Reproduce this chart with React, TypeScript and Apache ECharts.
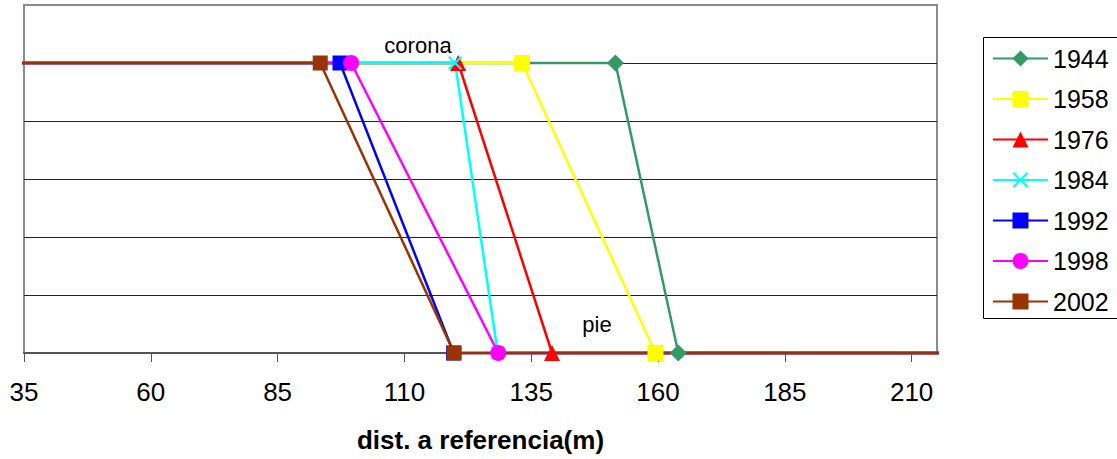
import React, { useEffect, useRef } from "react";
import * as echarts from "echarts";

const years = ["1944", "1958", "1976", "1984", "1992", "1998", "2002"];
const colors = ["#339966", "#FFFF00", "#FF0000", "#00FFFF", "#0000FF", "#FF00FF", "#993300"];
const symbols = [
  "diamond",
  "rect",
  "triangle",
  "path://M1,0 L5,4 L9,0 L10,1 L6,5 L10,9 L9,10 L5,6 L1,10 L0,9 L4,5 L0,1 Z",
  "rect",
  "circle",
  "rect",
];
const symbolSizes = [17, 16, 16, 14, 15, 16, 15];
// distance of the crown ("corona") and of the foot ("pie") for each year
const coronaX = [151.6, 133.2, 120.6, 120.0, 97.3, 99.5, 93.4];
const pieX = [164.0, 159.5, 139.1, 128.4, 119.7, 128.5, 119.8];
const coronaLevel = 5;
const pieLevel = 0;
const lineStartX = 33.6;
const lineEndX = 216.7;
const xTicks = [35, 60, 85, 110, 135, 160, 185, 210];

const FONT = "'Liberation Sans', Arial, sans-serif";

export default function App() {
  const ref = useRef<HTMLDivElement>(null);
  useEffect(() => {
    if (!ref.current) return;
    const chart = echarts.init(ref.current, undefined, { renderer: "svg" });
    const series = years.map((y, i) => ({
      name: y,
      type: "line",
      clip: false,
      showAllSymbol: true,
      symbol: symbols[i],
      symbolSize: symbolSizes[i],
      itemStyle: { color: colors[i] },
      lineStyle: { color: colors[i], width: 2.5 },
      data: [
        { value: [lineStartX, coronaLevel], symbol: "none" },
        [coronaX[i], coronaLevel],
        [pieX[i], pieLevel],
        { value: [lineEndX, pieLevel], symbol: "none" },
      ],
    }));
    chart.setOption({
      animation: false,
      textStyle: { fontFamily: FONT },
      grid: {
        left: 24,
        top: 5,
        right: 180,
        bottom: 106,
        show: true,
        borderColor: "#8c8c8c",
        borderWidth: 2,
        backgroundColor: "#fff",
      },
      xAxis: {
        type: "value",
        min: 35,
        max: 215,
        name: "dist. a referencia(m)",
        nameLocation: "middle",
        nameGap: 74,
        nameTextStyle: { fontSize: 26, fontWeight: "bold", color: "#000", fontFamily: FONT },
        splitLine: { show: false },
        axisLine: { lineStyle: { color: "#555", width: 2 } },
        axisTick: { length: 9, lineStyle: { color: "#555", width: 1 }, customValues: xTicks },
        axisLabel: { fontSize: 26, color: "#000", margin: 26, fontFamily: FONT, customValues: xTicks },
      },
      yAxis: {
        type: "value",
        min: 0,
        max: 6,
        interval: 1,
        axisLabel: { show: false },
        axisLine: { show: false },
        axisTick: { show: false },
        splitLine: {
          lineStyle: {
            color: ["transparent", "#222", "#222", "#222", "#222", "#222", "transparent"],
            width: 1,
          },
        },
      },
      legend: {
        orient: "vertical",
        left: 983,
        top: 37,
        z: 5,
        padding: [9, 10, 5, 9],
        itemWidth: 55,
        itemHeight: 20,
        itemGap: 15.5,
        textStyle: { fontSize: 25, color: "#000", fontFamily: FONT },
        data: years,
      },
      graphic: [
        {
          type: "rect",
          z: 1,
          silent: true,
          shape: { x: 983.5, y: 37.5, width: 200, height: 281 },
          style: { fill: "#fff", stroke: "#000", lineWidth: 1 },
        },
        {
          type: "text",
          x: 418,
          y: 45,
          style: { text: "corona", fontSize: 22, fill: "#000", fontFamily: FONT, textAlign: "center", textVerticalAlign: "middle" },
        },
        {
          type: "text",
          x: 597,
          y: 324,
          style: { text: "pie", fontSize: 22, fill: "#000", fontFamily: FONT, textAlign: "center", textVerticalAlign: "middle" },
        },
      ],
      series,
    });
    return () => chart.dispose();
  }, []);
  return (
    <div
      ref={ref}
      style={{ position: "fixed", left: 0, top: 0, width: 1117, height: 459, background: "#fff" }}
    />
  );
}
